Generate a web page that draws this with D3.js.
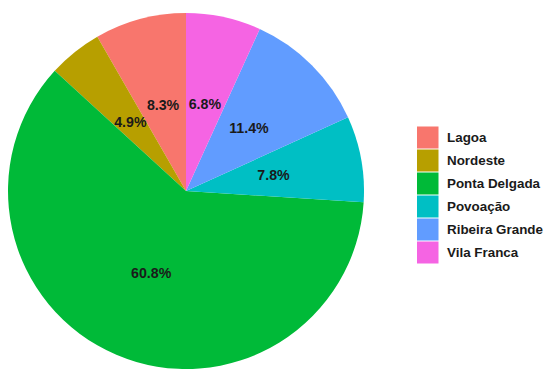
<!DOCTYPE html>
<html>
<head>
<meta charset="utf-8">
<script src="https://cdn.jsdelivr.net/npm/d3@7"></script>
<style>
  body { margin: 0; background: #fff; }
  text { font-family: "Liberation Sans", Arial, sans-serif; font-weight: bold; }
</style>
</head>
<body>
<svg width="550" height="383"></svg>
<script>
var categories = ["Lagoa", "Nordeste", "Ponta Delgada", "Povoação", "Ribeira Grande", "Vila Franca"];
var shares = [8.3, 4.9, 60.8, 7.8, 11.4, 6.8];
var labels = ["8.3%", "4.9%", "60.8%", "7.8%", "11.4%", "6.8%"];
var colors = ["#F8766D", "#B79F00", "#00BA38", "#00BFC4", "#619CFF", "#F564E3"];

var svg = d3.select("svg"),
    cx = 186, cy = 191, radius = 178;

var data = categories.map(function(c, i) { return {name: c, value: shares[i], label: labels[i]}; });

var color = d3.scaleOrdinal().domain(categories).range(colors);

// counterclockwise from 12 o'clock, like ggplot's coord_polar
var pie = d3.pie()
   .value(function(d) { return d.value; })
   .sort(null)
   .startAngle(0)
   .endAngle(-2 * Math.PI);

var arc = d3.arc().innerRadius(0).outerRadius(radius);
var labelArc = d3.arc().innerRadius(radius / 2).outerRadius(radius / 2);

var g = svg.append("g").attr("transform", "translate(" + cx + "," + cy + ")");

var slices = g.selectAll("g.slice")
   .data(pie(data))
   .enter()
   .append("g")
   .attr("class", "slice");

slices.append("path")
   .attr("d", arc)
   .attr("fill", function(d) { return color(d.data.name); });

slices.append("text")
   .attr("transform", function(d) { return "translate(" + labelArc.centroid(d) + ")"; })
   .attr("text-anchor", "middle")
   .attr("dy", "0.35em")
   .attr("font-size", "14.2px")
   .attr("fill", "#1a1a1a")
   .text(function(d) { return d.data.label; });

// legend
var legend = svg.append("g").attr("transform", "translate(417,126)");
var keyH = 23;

var items = legend.selectAll("g")
   .data(categories)
   .enter()
   .append("g")
   .attr("transform", function(d, i) { return "translate(0," + (i * keyH) + ")"; });

items.append("rect")
   .attr("x", 0)
   .attr("y", 0.5)
   .attr("width", 21.5)
   .attr("height", keyH - 1)
   .attr("fill", function(d) { return color(d); });

items.append("text")
   .attr("x", 30)
   .attr("y", keyH / 2)
   .attr("dy", "0.35em")
   .attr("font-size", "13.4px")
   .attr("fill", "#1a1a1a")
   .text(function(d) { return d; });
</script>
</body>
</html>
